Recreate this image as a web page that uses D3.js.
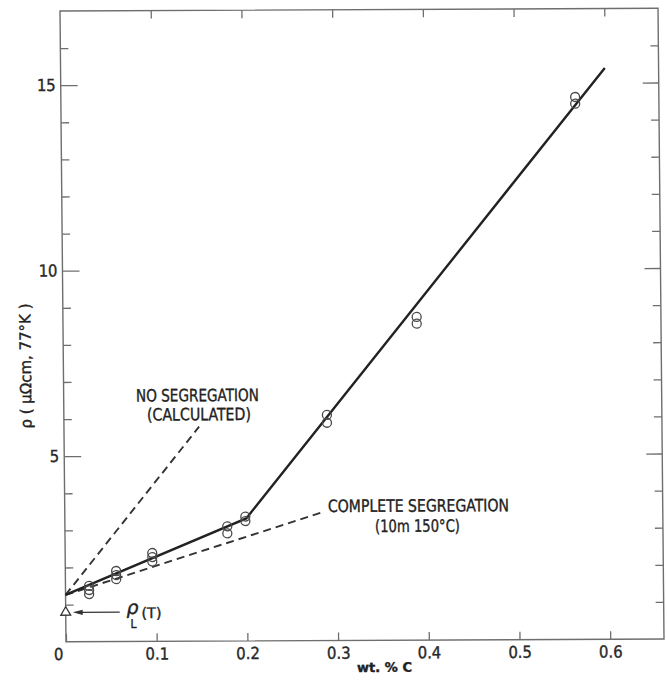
<!DOCTYPE html>
<html>
<head>
<meta charset="utf-8">
<script src="https://cdnjs.cloudflare.com/ajax/libs/d3/7.8.5/d3.min.js"></script>
<style>
  body { margin: 0; background: #fff; }
  text { font-family: "DejaVu Sans Condensed", "Liberation Sans Narrow", "DejaVu Sans", sans-serif; fill: #222; stroke: #222; stroke-width: 0.35px; }
</style>
</head>
<body>
<div id="d3-display"></div>
<script>
// measured points: carbon content (wt. %) vs resistivity at 77K (micro-ohm cm)
const sampleC   = [0.026, 0.026, 0.026, 0.056, 0.056, 0.056, 0.096, 0.096, 0.096, 0.179, 0.179, 0.199, 0.199, 0.29, 0.29, 0.39, 0.39, 0.567, 0.567];
const sampleRho = [1.50, 1.39, 1.28, 1.90, 1.79, 1.68, 2.38, 2.27, 2.15, 3.09, 2.90, 3.35, 3.23, 6.08, 5.87, 8.71, 8.53, 14.62, 14.44];

// drawn-through line
const fitC   = [0, 0.2, 0.6];
const fitRho = [1.26, 3.30, 15.4];

// dashed lines
const noSegC     = [0, 0.149];
const noSegRho   = [1.26, 5.78];
const fullSegC   = [0, 0.283];
const fullSegRho = [1.26, 3.45];

// rho_L(T) marker
const rhoL = [0, 0.79];

const xTicks      = [0, 0.1, 0.2, 0.3, 0.4, 0.5, 0.6];
const xTickLabels = ['0', '0.1', '0.2', '0.3', '0.4', '0.5', '0.6'];
const yMinor      = [1, 2, 3, 4, 6, 7, 8, 9, 11, 12, 13, 14, 16];
const yMajor      = [5, 10, 15];
const yTickLabels = ['5', '10', '15'];

const width = 667;
const height = 684;
const plotW = 598;
const plotH = 630.7;
const xMax = 0.6593;
const yMax = 17;

// the scanned page is slightly tilted: frame corner + small shear
const ox = 66, oy = 641.7;
const b = -0.0045, c = 0.0095;

// page position -> position inside the tilted plot group
function toLocal(sx, sy) {
    var dx = sx - ox, dy = sy - oy, det = 1 - b * c;
    return [(dx - c * dy) / det, (dy - b * dx) / det + plotH];
}

var svg = d3.select('#d3-display')
    .append('svg')
    .attr('width', width)
    .attr('height', height);

svg.append('rect')
    .attr('width', width)
    .attr('height', height)
    .attr('fill', '#fff');

var plot = svg.append('g')
    .attr('transform', 'translate(' + ox + ',' + oy + ') matrix(1,' + b + ',' + c + ',1,0,0) translate(0,' + (-plotH) + ')');

var xScale = d3.scaleLinear().domain([0, xMax]).range([0, plotW]);
var yScale = d3.scaleLinear().domain([0, yMax]).range([plotH, 0]);

var axisColor = '#6e6e6e';

function styleAxis(g) {
    g.select('.domain').remove();
    g.selectAll('line').attr('stroke', axisColor).attr('stroke-width', 1.3);
    g.selectAll('text').style('font-size', '16.5px').style('fill', '#2a2a2a');
}

// frame
plot.append('rect')
    .attr('width', plotW)
    .attr('height', plotH)
    .attr('fill', 'none')
    .attr('stroke', axisColor)
    .attr('stroke-width', 1.4);

// bottom axis
plot.append('g')
    .attr('transform', 'translate(0,' + plotH + ')')
    .call(d3.axisBottom(xScale).tickValues(xTicks).tickFormat((d, i) => xTickLabels[i])
        .tickSize(-8).tickSizeOuter(0).tickPadding(6.5))
    .call(styleAxis)
    .selectAll('.tick text')
    .filter(d => d === 0)
    .attr('dx', -8);

// top axis
plot.append('g')
    .call(d3.axisTop(xScale).tickValues(xTicks.slice(1)).tickFormat('').tickSize(-8).tickSizeOuter(0))
    .call(styleAxis);

// left axis
plot.append('g')
    .call(d3.axisLeft(yScale).tickValues(yMinor).tickFormat('').tickSize(-8).tickSizeOuter(0))
    .call(styleAxis);

plot.append('g')
    .call(d3.axisLeft(yScale).tickValues(yMajor).tickFormat((d, i) => yTickLabels[i])
        .tickSize(-17).tickSizeOuter(0).tickPadding(5))
    .call(styleAxis);

// right axis
plot.append('g')
    .attr('transform', 'translate(' + plotW + ',0)')
    .call(d3.axisRight(yScale).tickValues(yMinor).tickFormat('').tickSize(-8).tickSizeOuter(0))
    .call(styleAxis);

plot.append('g')
    .attr('transform', 'translate(' + plotW + ',0)')
    .call(d3.axisRight(yScale).tickValues(yMajor).tickFormat('').tickSize(-16).tickSizeOuter(0))
    .call(styleAxis);

var line = d3.line()
    .x(d => xScale(d[0]))
    .y(d => yScale(d[1]));

// dashed reference lines
plot.append('path')
    .datum(d3.zip(noSegC, noSegRho))
    .attr('d', line)
    .attr('fill', 'none')
    .attr('stroke', '#333')
    .attr('stroke-width', 1.9)
    .attr('stroke-dasharray', '8,5');

plot.append('path')
    .datum(d3.zip(fullSegC, fullSegRho))
    .attr('d', line)
    .attr('fill', 'none')
    .attr('stroke', '#333')
    .attr('stroke-width', 1.9)
    .attr('stroke-dasharray', '8,5');

// solid line
plot.append('path')
    .datum(d3.zip(fitC, fitRho))
    .attr('d', line)
    .attr('fill', 'none')
    .attr('stroke', '#222')
    .attr('stroke-width', 2.4);

// data circles
plot.append('g')
    .selectAll('circle')
    .data(d3.zip(sampleC, sampleRho))
    .enter()
    .append('circle')
    .attr('cx', d => xScale(d[0]))
    .attr('cy', d => yScale(d[1]))
    .attr('r', 4.5)
    .attr('fill', 'none')
    .attr('stroke', '#4a4a4a')
    .attr('stroke-width', 1.3);

// rho_L(T) triangle and arrow
var tx = xScale(rhoL[0]), ty = yScale(rhoL[1]);

plot.append('path')
    .attr('d', d3.symbol(d3.symbolTriangle, 42))
    .attr('transform', 'translate(' + tx + ',' + ty + ')')
    .attr('fill', '#fff')
    .attr('stroke', '#333')
    .attr('stroke-width', 1.3);

plot.append('line')
    .attr('x1', tx + 54)
    .attr('x2', tx + 14)
    .attr('y1', ty)
    .attr('y2', ty)
    .attr('stroke', '#333')
    .attr('stroke-width', 1.4);

plot.append('path')
    .attr('d', 'M' + (tx + 7) + ',' + ty + 'L' + (tx + 17) + ',' + (ty - 2.6) + 'L' + (tx + 17) + ',' + (ty + 2.6) + 'Z')
    .attr('fill', '#333');

// labels, placed where they sit on the page
function label(txt, sx, sy, size, len, weight) {
    var p = toLocal(sx, sy);
    var t = plot.append('text')
        .attr('x', p[0])
        .attr('y', p[1])
        .style('font-size', size + 'px')
        .text(txt);
    if (len) t.attr('textLength', len).attr('lengthAdjust', 'spacingAndGlyphs');
    if (weight) t.style('font-weight', weight);
    return t;
}

label('NO SEGREGATION', 136, 401.5, 17, 123);
label('(CALCULATED)', 147, 420.5, 17, 104);
label('COMPLETE SEGREGATION', 328, 512, 17, 181);
label('(10m 150°C)', 375, 532, 17, 85);

label('ρ', 126.5, 614, 19, 12).style('font-style', 'italic');
label('L', 130.5, 628, 12);
label('(T)', 141.5, 618, 14.5, 20);

label('wt. % C', 357, 672, 13, 55, 'bold');

// y axis title
var yl = toLocal(31, 366);
plot.append('text')
    .attr('transform', 'translate(' + yl[0] + ',' + yl[1] + ') rotate(-90)')
    .attr('text-anchor', 'middle')
    .attr('textLength', 125)
    .attr('lengthAdjust', 'spacingAndGlyphs')
    .style('font-size', '15.5px')
    .text('ρ ( μΩcm, 77°K )');
</script>
</body>
</html>
